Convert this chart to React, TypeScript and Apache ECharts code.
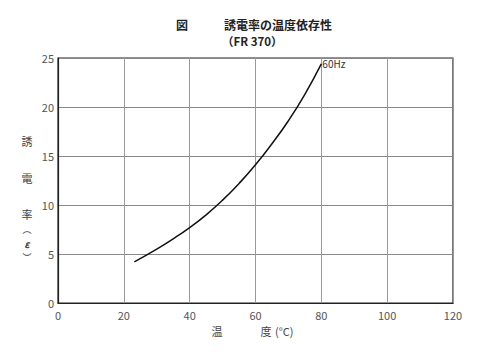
import React, { useEffect, useRef } from "react";
import * as echarts from "echarts";

const temps = [23.2, 30, 35, 40, 45, 50, 55, 60, 65, 70, 75, 80];
const permittivity = [4.2, 5.5, 6.55, 7.7, 9.0, 10.5, 12.2, 14.1, 16.25, 18.6, 21.3, 24.4];
const curveLabel = "60Hz";
const titleLine1 = "図　　　誘電率の温度依存性";
const titleLine2 = "（FR 370）";
const yNameChars = ["誘", "電", "率", "︵", "ε", "︶"];
const xNameParts = ["温", "度", "(°C)"];

const FONT = "'Noto Sans CJK JP', 'Noto Sans', sans-serif";

export default function App() {
  const ref = useRef<HTMLDivElement>(null);
  useEffect(() => {
    if (!ref.current) return;
    const chart = echarts.init(ref.current, undefined, { renderer: "svg" });
    const yPos = [141, 178, 214, 229, 243, 257];
    const yFonts = ["11px", "11px", "11px", "9px", "italic bold 10px", "9px"];
    chart.setOption({
      animation: false,
      backgroundColor: "#fff",
      textStyle: { fontFamily: FONT },
      grid: {
        left: 58,
        right: 47,
        top: 58,
        bottom: 53,
        show: true,
        borderColor: "#222",
        borderWidth: 1.2,
      },
      xAxis: {
        type: "value",
        min: 0,
        max: 120,
        interval: 20,
        axisLine: { show: true, lineStyle: { color: "#222", width: 1.2 } },
        axisTick: { show: false },
        splitLine: { show: true, lineStyle: { color: "#999", width: 1 } },
        axisLabel: { color: "#555", fontSize: 11, margin: 6, fontFamily: FONT },
      },
      yAxis: {
        type: "value",
        min: 0,
        max: 25,
        interval: 5,
        axisLine: { show: true, lineStyle: { color: "#222", width: 1.2 } },
        axisTick: { show: false },
        splitLine: { show: true, lineStyle: { color: "#888", width: 1 } },
        axisLabel: { color: "#555", fontSize: 11, margin: 4, fontFamily: FONT },
      },
      series: [
        {
          type: "line",
          data: temps.map((t, i) => [t, permittivity[i]]),
          smooth: 0.5,
          showSymbol: false,
          lineStyle: { color: "#111", width: 1.5 },
          endLabel: {
            show: true,
            formatter: curveLabel,
            color: "#333",
            fontSize: 10,
            distance: 1,
            offset: [0, 0],
            fontFamily: FONT,
          },
        },
      ],
      graphic: [
        {
          type: "text",
          x: 176,
          y: 24,
          style: { text: titleLine1, fill: "#222", font: `bold 12px ${FONT}`, verticalAlign: "middle" },
        },
        {
          type: "text",
          x: 222,
          y: 41,
          style: { text: titleLine2, fill: "#222", font: `bold 11.5px ${FONT}`, verticalAlign: "middle" },
        },
        ...yNameChars.map((c, i) => ({
          type: "text",
          x: 27,
          y: yPos[i],
          style: {
            text: c,
            fill: "#444",
            font: `${yFonts[i]} ${FONT}`,
            align: "center",
            verticalAlign: "middle",
          },
        })),
        {
          type: "text",
          x: 217,
          y: 331,
          style: { text: xNameParts[0], fill: "#444", font: `11px ${FONT}`, align: "center", verticalAlign: "middle" },
        },
        {
          type: "text",
          x: 266,
          y: 331,
          style: { text: xNameParts[1], fill: "#444", font: `11px ${FONT}`, align: "center", verticalAlign: "middle" },
        },
        {
          type: "text",
          x: 275,
          y: 331,
          style: { text: xNameParts[2], fill: "#444", font: `11px ${FONT}`, align: "left", verticalAlign: "middle" },
        },
      ],
    });
    return () => chart.dispose();
  }, []);
  return <div ref={ref} style={{ width: 500, height: 356, position: "absolute", left: 0, top: 0 }} />;
}
